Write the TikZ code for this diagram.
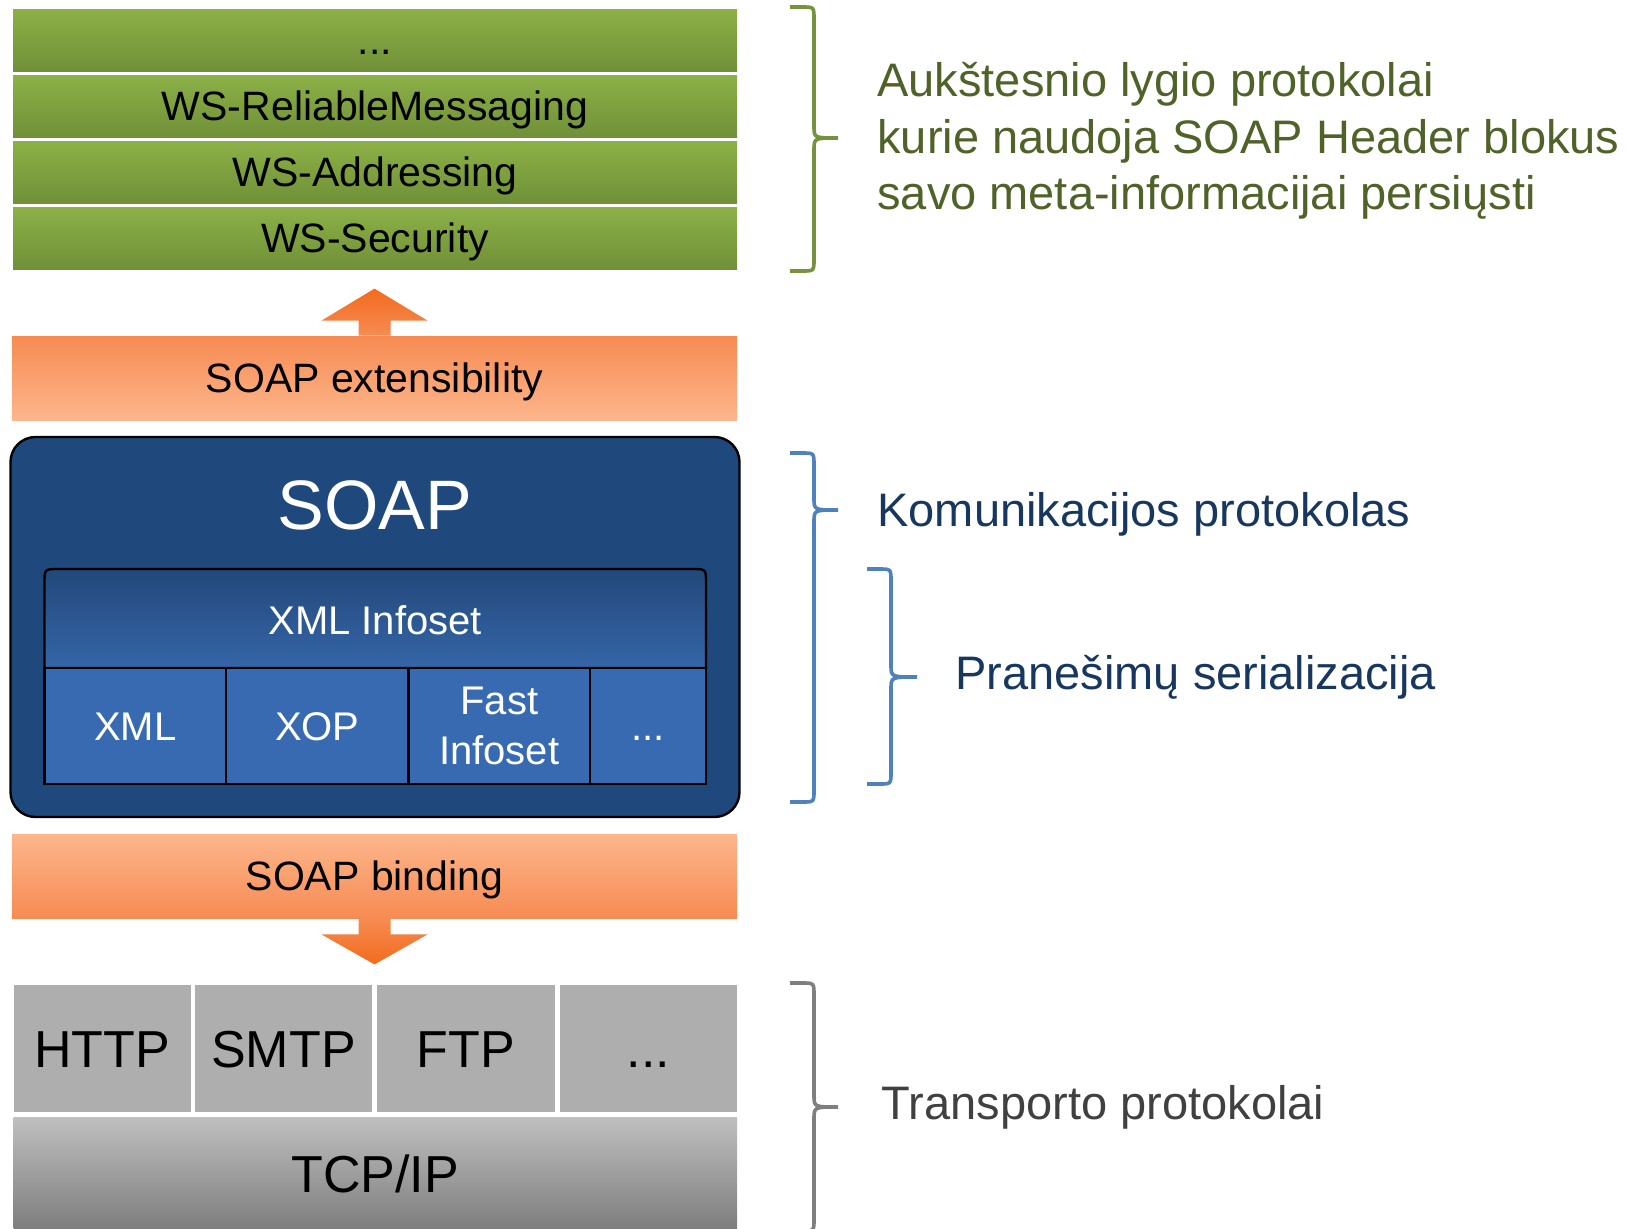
\documentclass[tikz,border=0pt]{standalone}
\usepackage{fontspec}
\setmainfont{Liberation Sans}
\definecolor{grnT}{HTML}{8CB146}
\definecolor{grnB}{HTML}{709038}
\definecolor{orD}{HTML}{F68B52}
\definecolor{orL}{HTML}{FDB68C}
\definecolor{arD}{HTML}{F26B1D}
\definecolor{soapB}{HTML}{1F497D}
\definecolor{ibT}{HTML}{23487A}
\definecolor{ibB}{HTML}{3566A8}
\definecolor{cellB}{HTML}{376AB0}
\definecolor{greyC}{HTML}{AEAEAE}
\definecolor{tcpT}{HTML}{BFBFBF}
\definecolor{tcpB}{HTML}{7D7D7D}
\definecolor{brG}{HTML}{76923C}
\definecolor{brB}{HTML}{4F81BD}
\definecolor{brK}{HTML}{7F7F7F}
\definecolor{txtG}{HTML}{4F6228}
\definecolor{txtB}{HTML}{17375E}
\definecolor{txtK}{HTML}{404040}
\begin{document}
\begin{tikzpicture}[x=0.5pt,y=-0.5pt,
  capmid/.style={text height=#1,text depth=0pt,inner sep=0pt},
  greenrow/.style={rectangle,top color=grnT,bottom color=grnB,minimum width=362pt,minimum height=31pt,capmid=14.7pt,font=\fontsize{20.5pt}{24pt}\selectfont},
  orangebar/.style={rectangle,minimum width=362.5pt,minimum height=42pt,capmid=14.7pt,font=\fontsize{20.5pt}{24pt}\selectfont},
  bluecell/.style={rectangle,draw=black,line width=1.2pt,fill=cellB,minimum height=58pt,inner sep=0pt,text=white,font=\fontsize{20pt}{25pt}\selectfont},
  greycell/.style={rectangle,fill=greyC,minimum height=63.5pt,capmid=18.6pt,font=\fontsize{26pt}{30pt}\selectfont},
  bracket/.style={line width=1.8pt},
  sidetext/.style={anchor=west,capmid=16.8pt,font=\fontsize{23.5pt}{28.25pt}\selectfont}
]
\useasboundingbox (0,0) rectangle (1626,1228);
\clip (0,0) rectangle (1626,1228);

% green stack
\node[greenrow] (g1) at (375,40) {...};
\node[greenrow] (g2) at (375,106) {WS-ReliableMessaging};
\node[greenrow] (g3) at (375,172) {WS-Addressing};
\node[greenrow] (g4) at (375,238) {WS-Security};

% SOAP extensibility
\node[orangebar,top color=orD,bottom color=orL] (ext) at (374.5,378) {SOAP extensibility};
\path[top color=arD,bottom color=orD] ([xshift=-8pt]ext.north) -- ++(0,-15) -- ++(-37,0) -- ++(53,-32) -- ++(53,32) -- ++(-37,0) -- ++(0,15) -- cycle;

% SOAP box
\node[rectangle,rounded corners=12.5pt,draw=black,line width=1.2pt,fill=soapB,minimum width=364.5pt,minimum height=190pt] (soap) at (375,627) {};
\node[capmid=25.1pt,text=white,font=\fontsize{35pt}{40pt}\selectfont] (soaplbl) at (375,504) {SOAP};

\path[draw=black,line width=1.2pt,top color=ibT,bottom color=ibB] (44.5,668) -- (44.5,583) .. controls (44.5,569) .. (58.5,569) -- (692,569) .. controls (706,569) .. (706,583) -- (706,668) -- cycle;
\node[capmid=14.3pt,text=white,font=\fontsize{20pt}{24pt}\selectfont] (infoset) at (375.25,620) {XML Infoset};

\node[bluecell,capmid=14.3pt,minimum width=90.75pt] (cxml) at (135.25,726) {XML};
\node[bluecell,capmid=14.3pt,minimum width=91.25pt] (cxop) at (317.25,726) {XOP};
\node[bluecell,minimum width=90.75pt,align=center] (cfast) at (499.25,726) {Fast\\Infoset};
\node[bluecell,capmid=14.3pt,minimum width=58pt] (cdots) at (648,726) {...};

% SOAP binding
\node[orangebar,top color=orL,bottom color=orD] (bind) at (374.5,876) {SOAP binding};
\path[top color=orD,bottom color=arD] ([xshift=-8pt]bind.south) -- ++(0,16) -- ++(-37,0) -- ++(53,30) -- ++(53,-30) -- ++(-37,0) -- ++(0,-16) -- cycle;

% transport
\node[greycell,minimum width=88.75pt] (http) at (102.25,1048.5) {HTTP};
\node[greycell,minimum width=88.5pt] (smtp) at (283.5,1048.5) {SMTP};
\node[greycell,minimum width=89pt] (ftp) at (466,1048.5) {FTP};
\node[greycell,minimum width=88.5pt] (tdots) at (648.5,1048.5) {...};
\node[rectangle,top color=tcpT,bottom color=tcpB,minimum width=361.75pt,minimum height=56.5pt,capmid=18.6pt,font=\fontsize{26pt}{30pt}\selectfont] (tcp) at (375.25,1173.5) {TCP/IP};

% braces
\draw[bracket,brG] (790,7) -- (802,7) .. controls (814,7) .. (814,19) -- (814,126) .. controls (814,138) .. (838,138) .. controls (814,138) .. (814,150) -- (814,259) .. controls (814,271) .. (802,271) -- (790,271);
\draw[bracket,brB] (790,453) -- (802,453) .. controls (814,453) .. (814,465) -- (814,498) .. controls (814,510) .. (838,510) .. controls (814,510) .. (814,522) -- (814,790) .. controls (814,802) .. (802,802) -- (790,802);
\draw[bracket,brB] (867,569) -- (879,569) .. controls (891,569) .. (891,581) -- (891,665) .. controls (891,677) .. (917,677) .. controls (891,677) .. (891,689) -- (891,772) .. controls (891,784) .. (879,784) -- (867,784);
\draw[bracket,brK] (790,983) -- (802,983) .. controls (814,983) .. (814,995) -- (814,1095) .. controls (814,1107) .. (838,1107) .. controls (814,1107) .. (814,1119) -- (814,1219) .. controls (814,1231) .. (802,1231) -- (790,1231);

% side texts
\node[anchor=west,inner sep=0pt,align=left,text=txtG,font=\fontsize{23.5pt}{28.25pt}\selectfont] (hilvl) at (877,141) {Aukštesnio lygio protokolai\\kurie naudoja SOAP Header blokus\\savo meta-informacijai persiųsti};
\node[sidetext,text=txtB] (komm) at (877,510) {Komunikacijos protokolas};
\node[sidetext,text=txtB] (pran) at (955,672.5) {Pranešimų serializacija};
\node[sidetext,text=txtK] (trans) at (881.5,1102.5) {Transporto protokolai};
\end{tikzpicture}
\end{document}
